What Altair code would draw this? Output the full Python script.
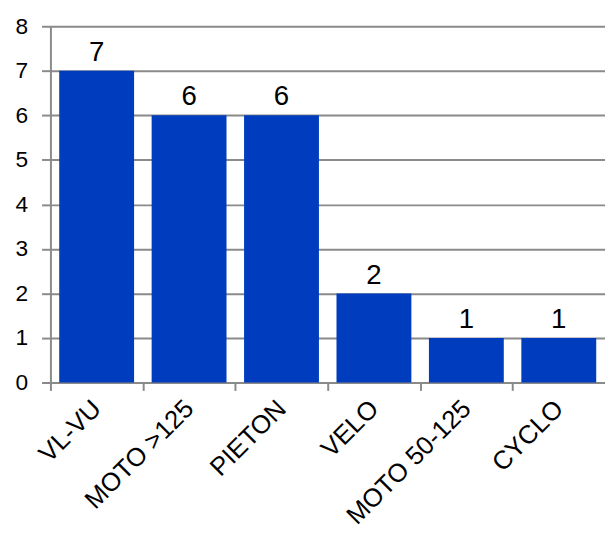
import altair as alt
import pandas as pd

categories = ["VL-VU", "MOTO >125", "PIETON", "VELO", "MOTO 50-125", "CYCLO"]
values = [7, 6, 6, 2, 1, 1]

df = pd.DataFrame({"cat": categories, "val": values})

FONT = "Liberation Sans"
GRAY = "#8a8a8a"
BLUE = "#003cbe"

W = 562
STEP = W / 6.0
EDGE = STEP * 0.095

base = alt.Chart(df).encode(
    x=alt.X(
        "cat:N",
        sort=categories,
        scale=alt.Scale(paddingInner=0.19, paddingOuter=0.095),
        axis=alt.Axis(
            title=None,
            labelAngle=-45,
            labelAlign="right",
            labelBaseline="middle",
            labelFont=FONT,
            labelFontSize=26,
            labelColor="black",
            labelPadding=14,
            bandPosition=0,
            tickOffset=-EDGE,
            labelOffset=EDGE,
            tickSize=8,
            tickColor=GRAY,
            tickWidth=2,
            domainColor=GRAY,
            domainWidth=2,
            grid=False,
        ),
    ),
)

bars = base.mark_bar(color=BLUE).encode(
    y=alt.Y(
        "val:Q",
        scale=alt.Scale(domain=[0, 8], nice=False),
        axis=alt.Axis(
            title=None,
            values=[0, 1, 2, 3, 4, 5, 6, 7, 8],
            labelFont=FONT,
            labelFontSize=23,
            labelColor="black",
            labelPadding=14,
            tickSize=9,
            tickColor=GRAY,
            tickWidth=2,
            domainColor=GRAY,
            domainWidth=2,
            grid=True,
            gridColor=GRAY,
            gridWidth=2,
        ),
    ),
)

labels = base.mark_text(
    font=FONT, fontSize=28, color="black", baseline="alphabetic", dy=-10
).encode(
    y=alt.Y("val:Q"),
    text=alt.Text("val:Q"),
)

chart = (
    alt.layer(bars, labels)
    .properties(width=W, height=361, padding={"left": 7, "top": 4, "right": 0, "bottom": 0})
    .configure_view(stroke=None)
)

chart.save("out.html", embed_options={"renderer": "svg", "actions": False})
